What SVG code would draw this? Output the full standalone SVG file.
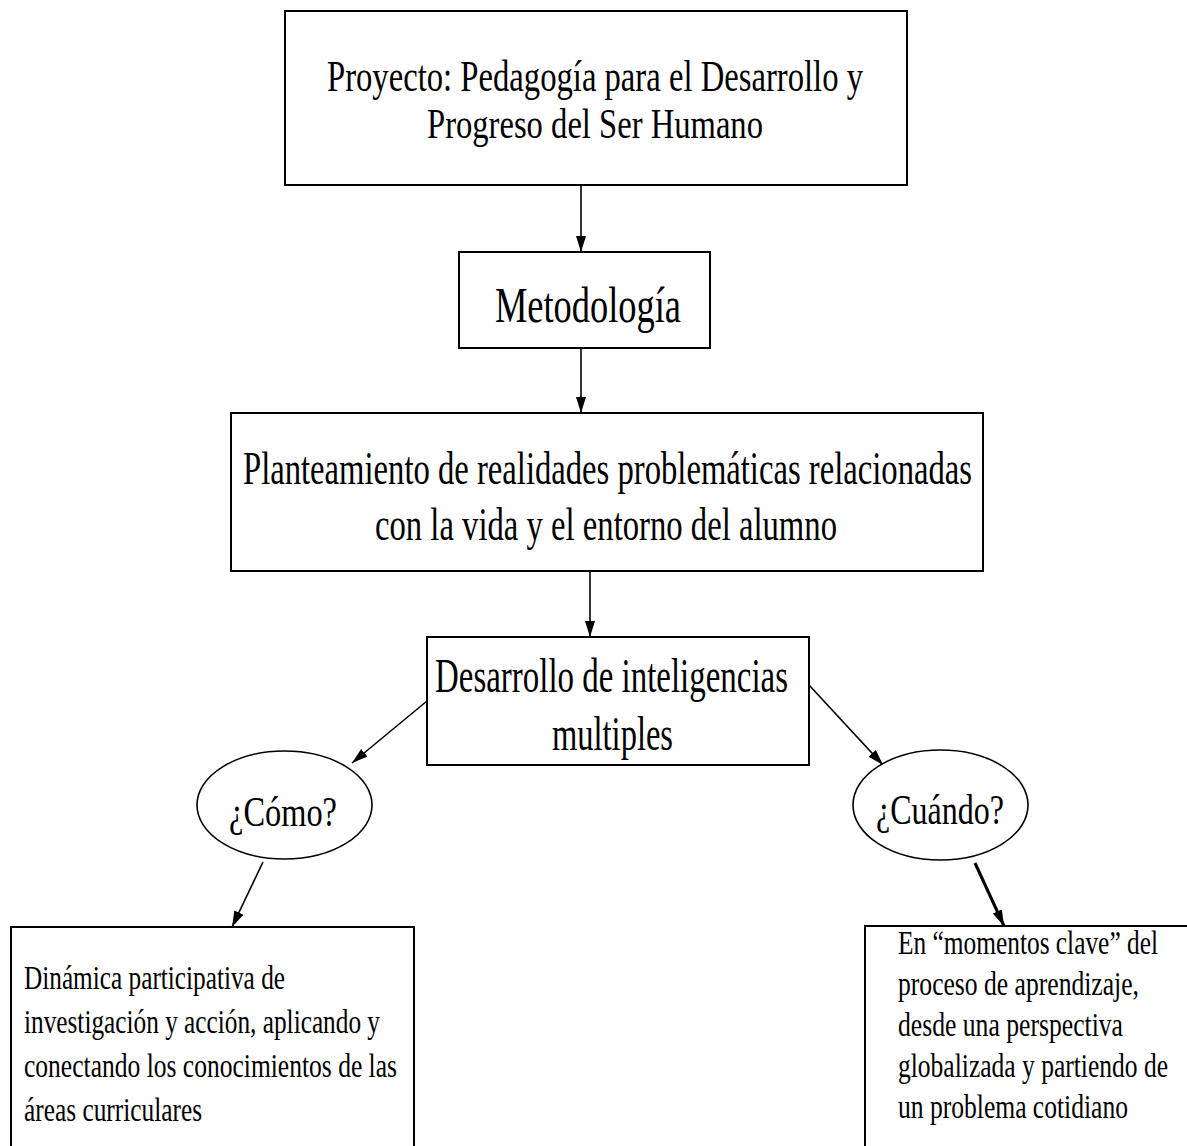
<svg xmlns="http://www.w3.org/2000/svg" width="1187" height="1146" viewBox="0 0 1187 1146">
<style>
.box{fill:#fff;stroke:#000;stroke-width:2}
.ell{fill:#fff;stroke:#000;stroke-width:1.6}
.t{font-family:"Liberation Serif","Times New Roman",serif;fill:#000}
.n7{transform:scale(0.7,1)}
.n75{transform:scale(0.75,1)}
.edge{stroke:#000;stroke-width:1.6;fill:none;marker-end:url(#ah)}
.edge2{stroke:#000;stroke-width:3;fill:none;marker-end:url(#ah)}
</style>
<defs>
<marker id="ah" viewBox="0 0 16 10" refX="16" refY="5" markerWidth="16" markerHeight="10" markerUnits="userSpaceOnUse" orient="auto">
<path d="M0,0 L16,5 L0,10 z" fill="#000"/>
</marker>
</defs>
<rect width="1187" height="1146" fill="#fff"/>
<g id="connectors">
<line class="edge" x1="581" y1="185" x2="581" y2="252"/>
<line class="edge" x1="581" y1="348" x2="581" y2="413"/>
<line class="edge" x1="590" y1="571" x2="590" y2="637"/>
<line class="edge" x1="427" y1="701" x2="352" y2="763"/>
<line class="edge" x1="809" y1="685" x2="883" y2="765"/>
<line class="edge" x1="263" y1="862" x2="232" y2="927"/>
<line class="edge2" x1="975" y1="863" x2="1004" y2="926"/>
</g>
<g id="proyecto">
<rect class="box" x="285" y="11" width="622" height="174"/>
<text class="t n7" x="467.14" y="91" font-size="44" textLength="765.71" lengthAdjust="spacingAndGlyphs">Proyecto: Pedagogía para el Desarrollo y</text>
<text class="t n7" x="610" y="138" font-size="42" textLength="480" lengthAdjust="spacingAndGlyphs">Progreso del Ser Humano</text>
</g>
<g id="metodologia">
<rect class="box" x="459" y="252" width="251" height="96"/>
<text class="t n7" x="707.14" y="322" font-size="51" textLength="265.71" lengthAdjust="spacingAndGlyphs">Metodología</text>
</g>
<g id="planteamiento">
<rect class="box" x="231" y="413" width="752" height="158"/>
<text class="t n7" x="347.14" y="484" font-size="47" textLength="1041.43" lengthAdjust="spacingAndGlyphs">Planteamiento de realidades problemáticas relacionadas</text>
<text class="t n7" x="535.71" y="540" font-size="47" textLength="660" lengthAdjust="spacingAndGlyphs">con la vida y el entorno del alumno</text>
</g>
<g id="desarrollo">
<rect class="box" x="427" y="637" width="382" height="128"/>
<text class="t n7" x="621.43" y="692" font-size="48" textLength="504.29" lengthAdjust="spacingAndGlyphs">Desarrollo de inteligencias</text>
<text class="t n7" x="788.57" y="750" font-size="48" textLength="172.86" lengthAdjust="spacingAndGlyphs">multiples</text>
</g>
<g id="como">
<ellipse class="ell" cx="284.5" cy="805" rx="87.5" ry="54"/>
<text class="t n7" x="327.14" y="826" font-size="42" textLength="154.29" lengthAdjust="spacingAndGlyphs">¿Cómo?</text>
</g>
<g id="cuando">
<ellipse class="ell" cx="940.5" cy="805" rx="87.5" ry="55"/>
<text class="t n7" x="1251.43" y="824" font-size="42" textLength="182.86" lengthAdjust="spacingAndGlyphs">¿Cuándo?</text>
</g>
<g id="dinamica">
<rect class="box" x="11" y="927" width="403" height="240"/>
<text class="t n75" x="32" y="989" font-size="33" textLength="348" lengthAdjust="spacingAndGlyphs">Dinámica participativa de</text>
<text class="t n75" x="32" y="1033" font-size="33" textLength="474.67" lengthAdjust="spacingAndGlyphs">investigación y acción, aplicando y</text>
<text class="t n75" x="32" y="1077" font-size="33" textLength="497.33" lengthAdjust="spacingAndGlyphs">conectando los conocimientos de las</text>
<text class="t n75" x="32" y="1121" font-size="33" textLength="237.33" lengthAdjust="spacingAndGlyphs">áreas curriculares</text>
</g>
<g id="momentos">
<rect class="box" x="865" y="926" width="340" height="240"/>
<text class="t n75" x="1197.33" y="954" font-size="33" textLength="346.67" lengthAdjust="spacingAndGlyphs">En “momentos clave” del</text>
<text class="t n75" x="1197.33" y="995" font-size="33" textLength="321.33" lengthAdjust="spacingAndGlyphs">proceso de aprendizaje,</text>
<text class="t n75" x="1197.33" y="1036" font-size="33" textLength="300" lengthAdjust="spacingAndGlyphs">desde una perspectiva</text>
<text class="t n75" x="1197.33" y="1077" font-size="33" textLength="360" lengthAdjust="spacingAndGlyphs">globalizada y partiendo de</text>
<text class="t n75" x="1197.33" y="1118" font-size="33" textLength="306.67" lengthAdjust="spacingAndGlyphs">un problema cotidiano</text>
</g>
</svg>
